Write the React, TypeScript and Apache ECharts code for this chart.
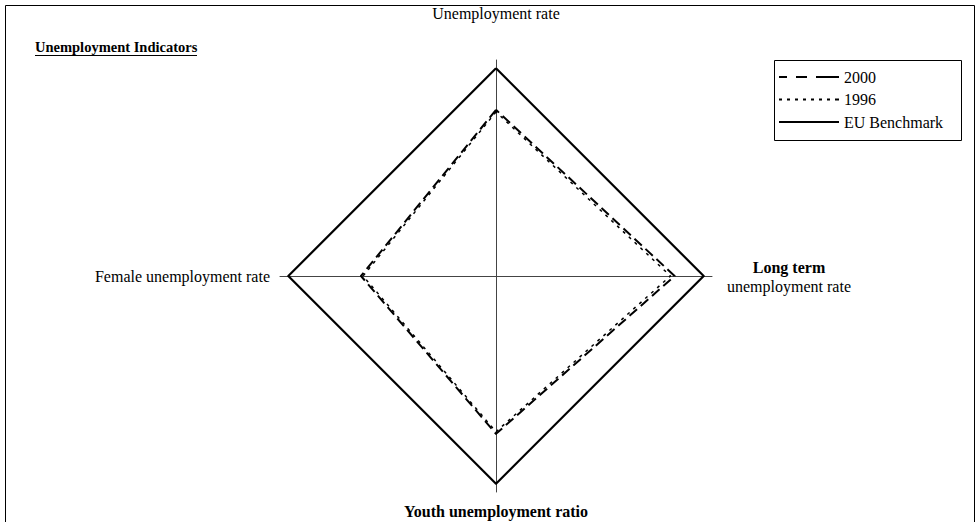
import React, { useEffect, useRef } from "react";
import * as echarts from "echarts";

const indicators = [
  "Unemployment rate",
  "Female unemployment rate",
  "Youth unemployment ratio",
  "Long term unemployment rate",
];
const seriesNames = ["2000", "1996", "EU Benchmark"];
const values2000 = [80, 65, 76, 86];
const values1996 = [79, 64, 75, 84];
const benchmark = [100, 100, 100, 100];
const axisMax = 104;

const FONT = "Liberation Serif";
const FS = 16;

const icons: Record<string, string> = {
  "2000": "path://M0,0h8v2h-8zM17,0h11v2h-11zM37,0h23v2h-23z",
  "1996":
    "path://M0,0h3v2h-3zM8,0h3v2h-3zM16,0h3v2h-3zM24,0h3v2h-3zM32,0h3v2h-3zM40,0h3v2h-3zM48,0h3v2h-3zM56,0h4v2h-4z",
  "EU Benchmark": "path://M0,0h60v2h-60z",
};

export default function App() {
  const ref = useRef<HTMLDivElement>(null);
  useEffect(() => {
    document.body.style.margin = "0";
    const chart = echarts.init(ref.current!, undefined, { renderer: "svg" });
    const styles = [
      { type: [10, 5], width: 2 },
      { type: [3, 5], width: 1.5 },
      { type: "solid", width: 2.2 },
    ];
    const vals = [values2000, values1996, benchmark];
    chart.setOption({
      animation: false,
      color: ["#000"],
      textStyle: { fontFamily: FONT, color: "#000" },
      graphic: [
        {
          type: "rect",
          shape: { x: 5.5, y: 5.5, width: 969, height: 530 },
          style: { fill: "none", stroke: "#000", lineWidth: 1 },
          silent: true,
        },
        {
          type: "text",
          x: 35,
          y: 39,
          style: {
            text: "Unemployment Indicators",
            font: `bold 14.5px "${FONT}"`,
            fill: "#000",
          },
        },
        {
          type: "line",
          shape: { x1: 35, y1: 55.5, x2: 197, y2: 55.5 },
          style: { stroke: "#000", lineWidth: 1 },
        },
        {
          type: "rect",
          shape: { x: 774.5, y: 60.5, width: 187, height: 80 },
          style: { fill: "#fff", stroke: "#000", lineWidth: 1 },
          z: -1,
        },
      ],
      legend: {
        orient: "vertical",
        left: 779,
        top: 69,
        itemWidth: 60,
        itemHeight: 2,
        itemGap: 6.5,
        padding: 0,
        selectedMode: false,
        textStyle: { fontFamily: FONT, fontSize: FS, color: "#000" },
        data: seriesNames.map((n) => ({ name: n, icon: icons[n] })),
      },
      radar: {
        center: [496, 276],
        radius: 216,
        startAngle: 90,
        shape: "polygon",
        splitNumber: 1,
        nameGap: 10,
        indicator: indicators.map((n) => ({ name: n, max: axisMax, min: 0 })),
        splitLine: { show: false },
        splitArea: { show: false },
        axisTick: { show: false },
        axisLine: { lineStyle: { color: "#444", width: 1 } },
        axisName: {
          color: "#000",
          fontFamily: FONT,
          fontSize: FS,
          formatter: (name: string) => {
            if (name === "Unemployment rate") return `{top|${name}}`;
            if (name === "Long term unemployment rate")
              return `{b|Long term}\n{n|unemployment rate}`;
            if (name === "Youth unemployment ratio") return `{bot|${name}}`;
            return `{n2|${name}}`;
          },
          rich: {
            top: { fontSize: FS, fontFamily: FONT, padding: [0, 0, 29, 0] },
            bot: {
              fontSize: FS,
              fontFamily: FONT,
              fontWeight: "bold",
              padding: [1, 0, 0, 0],
            },
            b: {
              fontSize: FS,
              fontFamily: FONT,
              fontWeight: "bold",
              width: 134,
              align: "center",
              lineHeight: 20,
            },
            n: {
              fontSize: FS,
              fontFamily: FONT,
              width: 134,
              align: "center",
              lineHeight: 18,
            },
            n2: { fontSize: FS, fontFamily: FONT },
          },
        },
      },
      series: [
        {
          type: "radar",
          symbol: "none",
          data: seriesNames.map((n, i) => ({
            name: n,
            value: vals[i],
            lineStyle: { color: "#000", ...styles[i] },
            itemStyle: { color: "#000" },
          })),
        },
      ],
    });
    return () => chart.dispose();
  }, []);
  return (
    <div
      ref={ref}
      style={{ position: "fixed", left: 0, top: 0, width: 977, height: 522, background: "#fff" }}
    />
  );
}
